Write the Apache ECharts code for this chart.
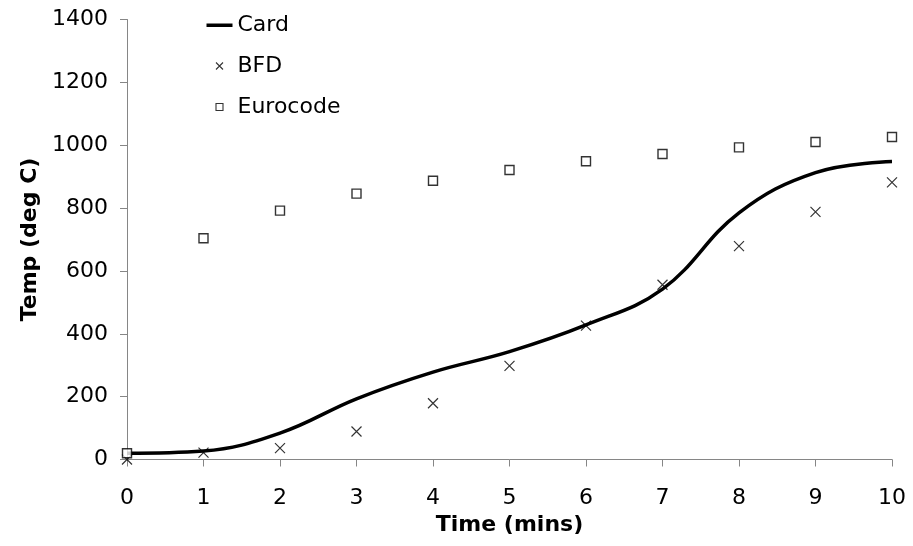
<!DOCTYPE html>
<html>
<head>
<meta charset="utf-8">
<script src="https://cdn.jsdelivr.net/npm/echarts@6/dist/echarts.min.js"></script>
<style>
  html, body { margin: 0; padding: 0; background: #fff; }
  #chart { width: 913px; height: 546px; }
</style>
</head>
<body>
<div id="chart"></div>
<script>
// time in minutes
const times = [0, 1, 2, 3, 4, 5, 6, 7, 8, 9, 10];
const cardTemps = [20, 27, 84, 193, 278, 343, 428, 542, 785, 913, 948];
const bfdTemps = [0, 22, 36, 89, 179, 298, 426, 556, 679, 788, 882];
const eurocodeTemps = [20, 704, 792, 846, 887, 921, 949, 972, 993, 1010, 1026];
const yTicks = [0, 200, 400, 600, 800, 1000, 1200, 1400];

const FONT = 'DejaVu Sans, Verdana, sans-serif';
const AXIS_GREY = '#868686';

function pairs(vals) {
  return times.map((t, i) => [t, vals[i]]);
}

// x marker, stroked only
const crossPath = 'path://M0,0 L10,10 M10,0 L0,10';
// legend icons: leading M points pin the bounding box so the glyph keeps its size
const lineIcon = 'path://M0,0 M26,14 M0,5.5 L26,5.5 L26,9 L0,9 Z';
const crossIcon = 'path://M0,0 M26,14 M9.5,3.5 L16.5,10.5 M16.5,3.5 L9.5,10.5';
const squareIcon = 'path://M0,0 M26,14 M9.5,3.5 L16.5,3.5 L16.5,10.5 L9.5,10.5 Z';

const chart = echarts.init(document.getElementById('chart'));

chart.setOption({
  animation: false,
  backgroundColor: '#fff',
  grid: {
    left: 127,
    right: 21,
    top: 19.5,
    bottom: 86.5,
    containLabel: false
  },
  legend: {
    orient: 'vertical',
    left: 199,
    top: 9,
    itemWidth: 26,
    itemHeight: 14,
    itemGap: 19,
    textStyle: { fontFamily: FONT, fontSize: 22, color: '#000' },
    data: [
      { name: 'Card', icon: lineIcon, itemStyle: { color: '#000', borderWidth: 0 } },
      { name: 'BFD', icon: crossIcon, itemStyle: { color: 'none', borderColor: '#000', borderWidth: 1.1 } },
      { name: 'Eurocode', icon: squareIcon, itemStyle: { color: '#fff', borderColor: '#000', borderWidth: 1.1 } }
    ]
  },
  xAxis: {
    type: 'value',
    min: 0,
    max: 10,
    interval: 1,
    name: 'Time (mins)',
    nameLocation: 'middle',
    nameGap: 54,
    nameTextStyle: { fontFamily: FONT, fontSize: 22, fontWeight: 'bold', color: '#000' },
    axisLine: { onZero: false, lineStyle: { color: AXIS_GREY, width: 1 } },
    axisTick: { show: true, inside: false, length: 7, lineStyle: { color: AXIS_GREY } },
    axisLabel: { margin: 28, fontFamily: FONT, fontSize: 22, color: '#000' },
    splitLine: { show: false }
  },
  yAxis: {
    type: 'value',
    min: yTicks[0],
    max: yTicks[yTicks.length - 1],
    interval: yTicks[1] - yTicks[0],
    name: 'Temp (deg C)',
    nameLocation: 'middle',
    nameGap: 85,
    nameTextStyle: { fontFamily: FONT, fontSize: 22, fontWeight: 'bold', color: '#000' },
    axisLine: { show: true, lineStyle: { color: AXIS_GREY, width: 1 } },
    axisTick: { show: true, inside: false, length: 7, lineStyle: { color: AXIS_GREY } },
    axisLabel: {
      margin: 19,
      fontFamily: FONT,
      fontSize: 22,
      color: '#000',
      formatter: v => String(v)
    },
    splitLine: { show: false }
  },
  series: [
    {
      name: 'Card',
      type: 'line',
      data: pairs(cardTemps),
      smooth: 0.4,
      symbol: 'none',
      color: '#000',
      lineStyle: { color: '#000', width: 3.5 },
      z: 2
    },
    {
      name: 'BFD',
      type: 'scatter',
      data: pairs(bfdTemps),
      symbol: crossPath,
      symbolSize: 10,
      color: '#000',
      itemStyle: { color: 'none', borderColor: '#000', borderWidth: 1.2 },
      z: 3
    },
    {
      name: 'Eurocode',
      type: 'scatter',
      data: pairs(eurocodeTemps),
      symbol: 'rect',
      symbolSize: 9,
      color: '#fff',
      itemStyle: { color: '#fff', borderColor: '#000', borderWidth: 1.4 },
      z: 3
    }
  ]
});
</script>
</body>
</html>
